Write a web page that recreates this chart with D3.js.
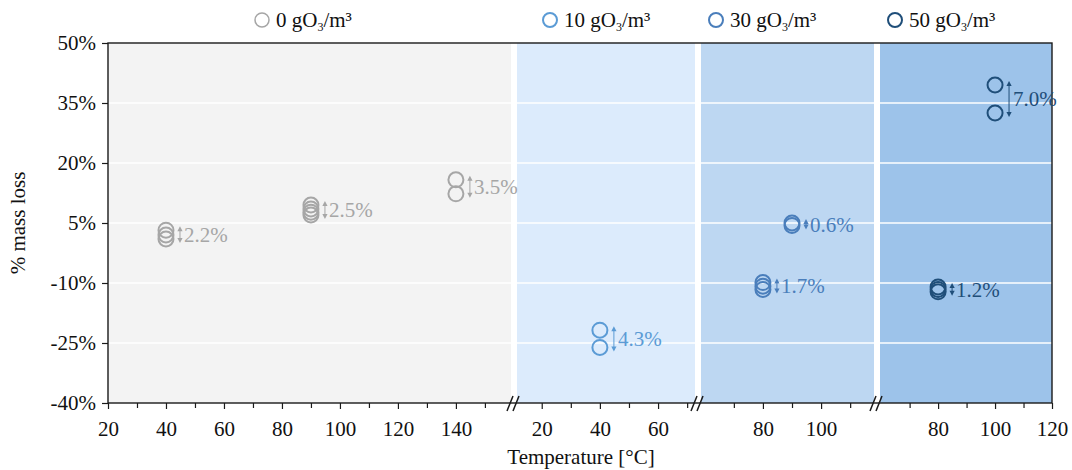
<!DOCTYPE html>
<html>
<head>
<meta charset="utf-8">
<script src="https://cdn.jsdelivr.net/npm/d3@7"></script>
<style>
  html, body { margin: 0; padding: 0; background: #fff; }
  svg { display: block; }
  svg text { font-family: 'Liberation Serif', 'Times New Roman', serif; }
</style>
</head>
<body>
<div id="chart"></div>
<script>
// ozone concentrations (gO3/m3), one broken x panel each
const concentrations = [0, 10, 30, 50]
const panelDomains = [[20, 159], [11.5, 72.7], [58.7, 118.2], [59.6, 120]]
const majorTicks = [[20, 40, 60, 80, 100, 120, 140], [20, 40, 60], [80, 100], [80, 100, 120]]
const minorTicks = [[30, 50, 70, 90, 110, 130, 150], [30, 50, 70], [70, 90, 110], [70, 90, 110]]
const yTicks = [-40, -25, -10, 5, 20, 35, 50]

// measured temperatures and replicate mass losses (%)
const temps0 = [40, 90, 140]
const loss0 = [[3.2, 2.0, 1.0], [9.5, 8.5, 7.7, 7.0], [15.8, 12.3]]
const spread0 = ['2.2%', '2.5%', '3.5%']

const temps10 = [40]
const loss10 = [[-21.8, -26.1]]
const spread10 = ['4.3%']

const temps30 = [90, 80]
const loss30 = [[5.0, 4.4], [-9.9, -10.8, -11.6]]
const spread30 = ['0.6%', '1.7%']

const temps50 = [100, 80]
const loss50 = [[39.5, 32.5], [-11.0, -11.6, -12.2]]
const spread50 = ['7.0%', '1.2%']

const groups = [
  { temps: temps0, loss: loss0, spread: spread0 },
  { temps: temps10, loss: loss10, spread: spread10 },
  { temps: temps30, loss: loss30, spread: spread30 },
  { temps: temps50, loss: loss50, spread: spread50 }
]

const markerColors = ['#a6a6a6', '#5b9bd5', '#4a7ebb', '#1f4e79']
const panelFills = ['#f3f3f3', '#dcebfc', '#bdd7f2', '#9dc3ea']

const width = 1072, height = 470
const margin = { top: 43, bottom: 67, left: 108, right: 20 }
const plotRight = width - margin.right
const plotBottom = height - margin.bottom
const gap = 6
const breaks = [514, 698, 877]
const edges = [margin.left, ...breaks, plotRight]
const ranges = concentrations.map((c, i) => [
  i === 0 ? edges[0] : edges[i] + gap / 2,
  i === 3 ? edges[4] : edges[i + 1] - gap / 2
])

const svg = d3.select('#chart')
  .append('svg')
  .attr('width', width)
  .attr('height', height)

const y = d3.scaleLinear()
  .domain([-40, 50])
  .range([plotBottom, margin.top])

const xs = panelDomains.map((dom, i) => d3.scaleLinear().domain(dom).range(ranges[i]))

const styleAxis = g => g
  .attr('font-family', null)
  .attr('font-size', 21)
  .call(g => g.select('.domain').remove())
  .call(g => g.selectAll('.tick line').attr('stroke', '#1a1a1a').attr('stroke-width', 1.2))
  .call(g => g.selectAll('.tick text').attr('fill', '#111'))

// panel backgrounds
svg.append('g')
  .selectAll('rect')
  .data(ranges)
  .join('rect')
  .attr('x', d => d[0])
  .attr('y', margin.top)
  .attr('width', d => d[1] - d[0])
  .attr('height', plotBottom - margin.top)
  .attr('fill', (d, i) => panelFills[i])

// white gridlines
svg.append('g')
  .selectAll('line')
  .data(yTicks.slice(1, -1))
  .join('line')
  .attr('x1', margin.left)
  .attr('x2', plotRight)
  .attr('y1', d => y(d))
  .attr('y2', d => y(d))
  .attr('stroke', '#fff')
  .attr('stroke-width', 1.5)

// frame
svg.append('rect')
  .attr('x', margin.left)
  .attr('y', margin.top)
  .attr('width', plotRight - margin.left)
  .attr('height', plotBottom - margin.top)
  .attr('fill', 'none')
  .attr('stroke', '#1a1a1a')
  .attr('stroke-width', 1.4)

// Y axis
svg.append('g')
  .attr('transform', `translate(${margin.left},0)`)
  .call(d3.axisLeft(y).tickValues(yTicks).tickSize(6).tickPadding(6).tickFormat(d => d + '%'))
  .call(styleAxis)

// X axes, one per panel
xs.forEach((x, i) => {
  svg.append('g')
    .attr('transform', `translate(0,${plotBottom})`)
    .call(d3.axisBottom(x).tickValues(majorTicks[i]).tickSize(6).tickPadding(12).tickFormat(d3.format('d')))
    .call(styleAxis)

  svg.append('g')
    .attr('transform', `translate(0,${plotBottom})`)
    .call(d3.axisBottom(x).tickValues(minorTicks[i].filter(t => t > x.domain()[0] + 2 && t < x.domain()[1])).tickSize(5).tickFormat(''))
    .call(styleAxis)
})

// break marks
const breakMarks = svg.append('g').attr('stroke', '#1a1a1a').attr('stroke-width', 1.5)
breaks.forEach(b => {
  [-3, 3].forEach(dx => {
    breakMarks.append('line')
      .attr('x1', b + dx - 4).attr('y1', plotBottom + 8)
      .attr('x2', b + dx + 2).attr('y2', plotBottom - 7)
  })
})

// markers, spread arrows and labels
groups.forEach((grp, i) => {
  const x = xs[i]
  const color = markerColors[i]
  const g = svg.append('g')

  grp.temps.forEach((t, j) => {
    const vals = grp.loss[j]
    const cx = x(t)

    g.selectAll(null)
      .data(vals)
      .join('circle')
      .attr('cx', cx)
      .attr('cy', d => y(d))
      .attr('r', 7.5)
      .attr('fill', 'none')
      .attr('stroke', color)
      .attr('stroke-width', 2)

    const yTop = y(d3.max(vals)) - 4
    const yBot = y(d3.min(vals)) + 4
    const ax = cx + 14
    g.append('line')
      .attr('x1', ax).attr('x2', ax)
      .attr('y1', yTop + 2).attr('y2', yBot - 2)
      .attr('stroke', color)
      .attr('stroke-width', 1)
    g.append('path')
      .attr('d', `M${ax - 2.6},${yTop + 5}L${ax},${yTop}L${ax + 2.6},${yTop + 5}Z`)
      .attr('fill', color)
    g.append('path')
      .attr('d', `M${ax - 2.6},${yBot - 5}L${ax},${yBot}L${ax + 2.6},${yBot - 5}Z`)
      .attr('fill', color)

    g.append('text')
      .attr('x', cx + 18)
      .attr('y', (yTop + yBot) / 2)
      .attr('dy', '0.35em')
      .attr('font-size', 21)
      .attr('fill', color)
      .text(grp.spread[j])
  })
})

// axis titles
svg.append('text')
  .attr('transform', `translate(25,${(margin.top + plotBottom) / 2}) rotate(-90)`)
  .attr('text-anchor', 'middle')
  .attr('font-size', 21)
  .attr('fill', '#111')
  .text('% mass loss')

svg.append('text')
  .attr('x', 581)
  .attr('y', 464)
  .attr('text-anchor', 'middle')
  .attr('font-size', 21)
  .attr('fill', '#111')
  .text('Temperature [°C]')

// legend
const legendX = [262, 550, 716, 895]
const legend = svg.append('g')
concentrations.forEach((c, i) => {
  legend.append('circle')
    .attr('cx', legendX[i])
    .attr('cy', 20)
    .attr('r', 7)
    .attr('fill', 'none')
    .attr('stroke', markerColors[i])
    .attr('stroke-width', i === 0 ? 1.5 : 2)
  const t = legend.append('text')
    .attr('x', legendX[i] + 14)
    .attr('y', 27)
    .attr('font-size', 21)
    .attr('fill', '#111')
  t.append('tspan').text(`${c} gO`)
  t.append('tspan').attr('font-size', 12).attr('dy', 4).text('3')
  t.append('tspan').attr('dy', -4).text('/m³')
})
</script>
</body>
</html>
